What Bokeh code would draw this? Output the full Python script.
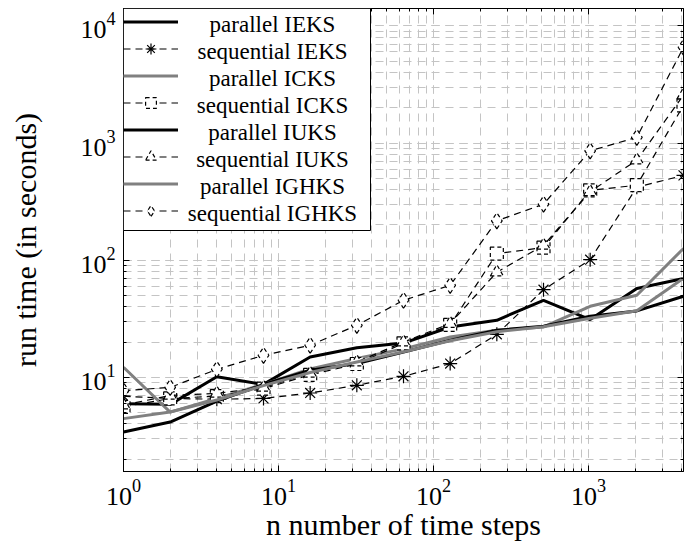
import math
from bokeh.plotting import figure
from bokeh.models import (LogAxis, Legend, LegendItem, Range1d, LogTicker,
                          CustomJSTickFormatter, BoxAnnotation, Label)
from bokeh.embed import file_html
from bokeh.resources import INLINE

# ---- data ----
n_steps = [1, 2, 4, 8, 16, 32, 64, 128, 256, 512, 1024, 2048, 4096]

parallel_ieks = [5.96, 5.88, 10.1, 8.7, 14.9, 17.9, 19.6, 26.9, 30.7, 45.5, 31.1, 57.3, 69.8]
sequential_ieks = [6.9, 6.6, 6.5, 6.6, 7.35, 8.55, 10.2, 13.1, 23.3, 56, 101, 420, 530]
parallel_icks = [12.2, 5.05, 6.6, 8.7, 11.8, 14.5, 17.5, 22.1, 25.2, 26.9, 40.4, 50.2, 126]
sequential_icks = [5.6, 6.6, 6.9, 8.0, 10.5, 13.0, 19.5, 28.0, 114, 128, 395, 437, 2100]
parallel_iuks = [3.41, 4.15, 6.27, 8.7, 11.5, 13.1, 16.4, 20.7, 25.2, 27.3, 33.2, 36.9, 49.2]
sequential_iuks = [5.8, 7.0, 7.3, 8.2, 10.8, 13.5, 20.0, 28.8, 79, 134, 384, 716, 2570]
parallel_ighks = [4.44, 5.05, 6.4, 8.5, 11.0, 13.5, 16.5, 20.5, 24.5, 27.0, 32.0, 37.0, 70.0]
sequential_ighks = [7.7, 8.2, 11.7, 15.4, 18.8, 27.8, 45.5, 61, 217, 301, 859, 1120, 6580]

series_labels = ["parallel IEKS", "sequential IEKS", "parallel ICKS", "sequential ICKS",
                 "parallel IUKS", "sequential IUKS", "parallel IGHKS", "sequential IGHKS"]

x_title = "n number of time steps"
y_title = "run time (in seconds)"

X_MIN, X_MAX = 1, 4096
Y_MIN, Y_MAX = 1.57, 14100

FONT = "Liberation Serif"
GRID = "#c4c4c4"
GRAY = "#808080"

# layout (pixels)
W, H = 686, 550
B_LEFT, B_RIGHT, B_TOP, B_BOTTOM = 123, 3, 8, 79
FRAME_W = W - B_LEFT - B_RIGHT
FRAME_H = H - B_TOP - B_BOTTOM
LEG_W, LEG_H = 247, 222
PAD, GLYPH_W, ROW = 5, 55, 27
TEXT_CENTER = 149
TEXT_SHIFT = 2.5

p = figure(width=W, height=H, x_axis_type="log", y_axis_type="log",
           x_range=Range1d(X_MIN, X_MAX), y_range=Range1d(Y_MIN, Y_MAX),
           output_backend="svg", toolbar_location=None,
           min_border_left=B_LEFT, min_border_right=B_RIGHT, min_border_top=B_TOP,
           min_border_bottom=B_BOTTOM, background_fill_color="white",
           border_fill_color="white", outline_line_color="black")

p.xaxis.ticker = LogTicker(num_minor_ticks=10)
p.yaxis.ticker = LogTicker(num_minor_ticks=10)

for g in (p.xgrid[0], p.ygrid[0]):
    g.grid_line_color = GRID
    g.grid_line_dash = "8 6"
    g.grid_line_width = 1
    g.minor_grid_line_color = GRID
    g.minor_grid_line_dash = "8 6"
    g.minor_grid_line_width = 1

for ax in (p.xaxis[0], p.yaxis[0]):
    ax.major_tick_in = 6
    ax.major_tick_out = 0
    ax.minor_tick_in = 3
    ax.minor_tick_out = 0
    ax.axis_line_color = "black"
    ax.major_tick_line_color = "black"
    ax.minor_tick_line_color = "black"
    ax.major_label_text_font = FONT
    ax.major_label_text_font_size = "26px"
    ax.major_label_text_color = "black"
    ax.major_label_standoff = 8
    ax.axis_label_text_font = FONT
    ax.axis_label_text_font_size = "30px"
    ax.axis_label_text_font_style = "normal"
    ax.axis_label_text_color = "black"

p.xaxis.axis_label = x_title
p.yaxis.axis_label = y_title
p.xaxis.axis_label_standoff = 0
p.yaxis.axis_label_standoff = 35

for side in ("right", "above"):
    ax = LogAxis(ticker=LogTicker(num_minor_ticks=10),
                 formatter=CustomJSTickFormatter(code="return ''"),
                 major_label_text_font_size="1px", major_label_standoff=0,
                 major_tick_in=6, major_tick_out=0, minor_tick_in=3, minor_tick_out=0,
                 axis_line_color="black")
    p.add_layout(ax, side)

items = []

def solid(vals, color):
    r = p.line(n_steps, vals, line_color=color, line_width=3)
    items.append(LegendItem(label="", renderers=[r]))

def dashed(vals, marker, size):
    r = p.line(n_steps, vals, line_color="black", line_width=1.2, line_dash="7 5")
    fill = None if marker == "asterisk" else "white"
    s = p.scatter(n_steps, vals, marker=marker, size=size, line_color="black",
                  line_width=1.2, fill_color=fill,
                  line_dash="solid" if marker == "asterisk" else "4 3")
    items.append(LegendItem(label="", renderers=[r, s]))

solid(parallel_ieks, "black")
dashed(sequential_ieks, "asterisk", 14)
solid(parallel_icks, GRAY)
dashed(sequential_icks, "square", 13)
solid(parallel_iuks, "black")
dashed(sequential_iuks, "triangle", 13)
solid(parallel_ighks, GRAY)
dashed(sequential_ighks, "diamond", 16)

# pixel -> data helpers for the legend frame (log axes)
lx0, lx1 = math.log10(X_MIN), math.log10(X_MAX)
ly0, ly1 = math.log10(Y_MIN), math.log10(Y_MAX)

def px_to_x(px):
    return 10 ** (lx0 + px / FRAME_W * (lx1 - lx0))

def py_to_y(py):  # py measured downward from frame top
    return 10 ** (ly1 - py / FRAME_H * (ly1 - ly0))

legend_box = BoxAnnotation(left=X_MIN, right=px_to_x(LEG_W), top=Y_MAX, bottom=py_to_y(LEG_H),
                           fill_color="white", fill_alpha=1.0,
                           line_color="black", line_width=1, line_alpha=1.0)
p.add_layout(legend_box)

legend = Legend(items=items, location="top_left", margin=0, padding=PAD, spacing=0,
                glyph_width=GLYPH_W, glyph_height=ROW, label_height=ROW, label_width=0,
                label_standoff=0, label_text_font_size="8px",
                border_line_color=None, background_fill_alpha=0.0)
p.add_layout(legend)

for i, lab in enumerate(series_labels):
    p.add_layout(Label(x=px_to_x(TEXT_CENTER),
                       y=py_to_y(PAD + ROW / 2 + ROW * i - TEXT_SHIFT),
                       text=lab, text_align="center", text_baseline="middle",
                       text_font=FONT, text_font_size="23px", text_color="black"))

open("out.html", "w").write(file_html(p, INLINE))
